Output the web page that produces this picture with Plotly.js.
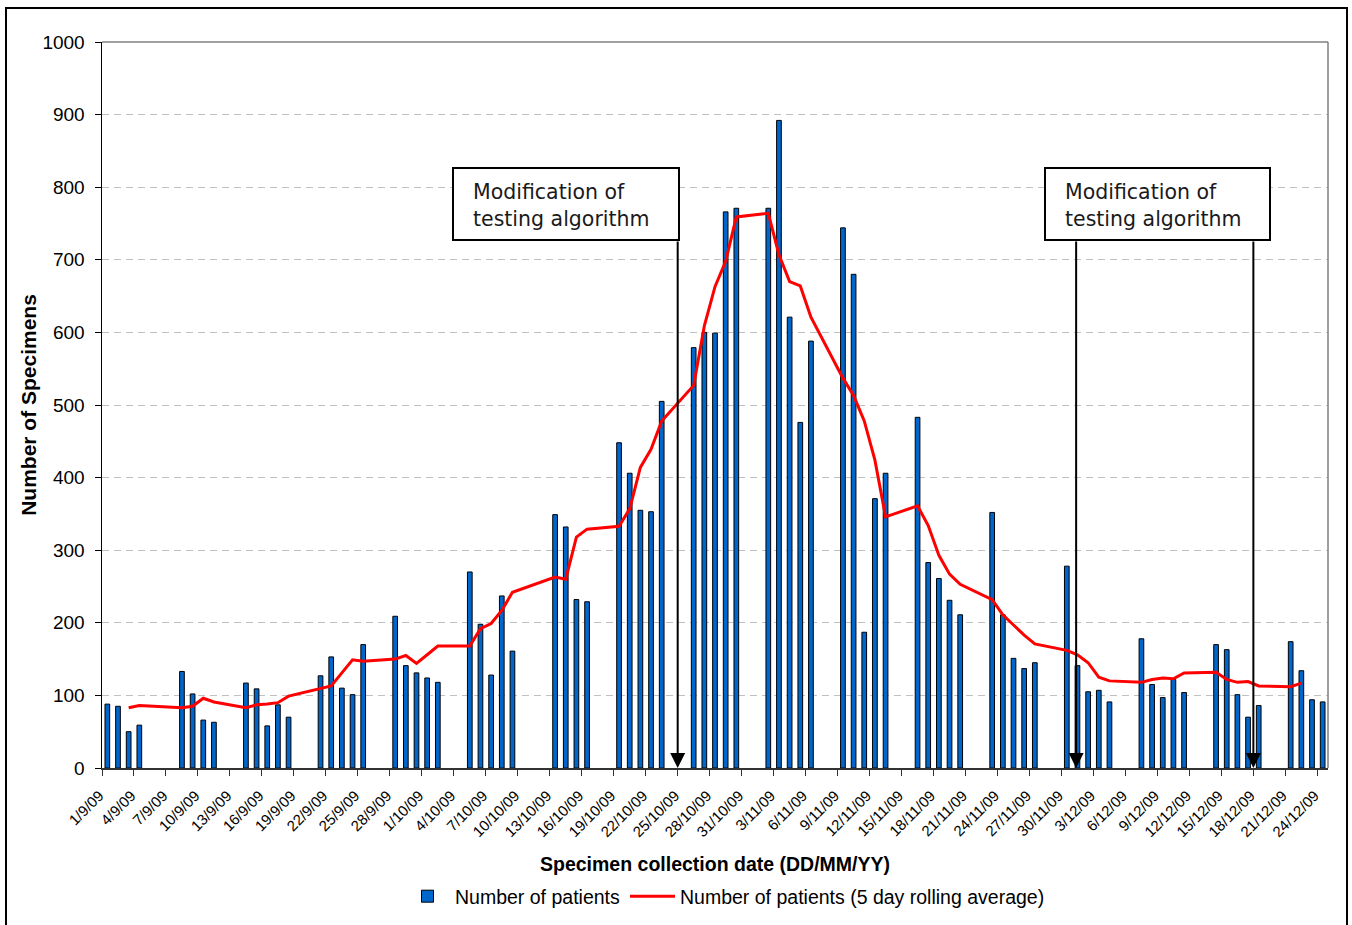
<!DOCTYPE html>
<html>
<head>
<meta charset="utf-8">
<script src="https://cdn.plot.ly/plotly-3.0.1.min.js"></script>
<style>
  html, body { margin: 0; padding: 0; background: #ffffff; }
  #chart { width: 1352px; height: 925px; }
</style>
</head>
<body>
<div id="chart"></div>
<script>
// ---- Data ----
const dates = [
  '2009-09-01','2009-09-02','2009-09-03','2009-09-04',
  '2009-09-08','2009-09-09','2009-09-10','2009-09-11',
  '2009-09-14','2009-09-15','2009-09-16','2009-09-17','2009-09-18',
  '2009-09-21','2009-09-22','2009-09-23','2009-09-24','2009-09-25',
  '2009-09-28','2009-09-29','2009-09-30','2009-10-01','2009-10-02',
  '2009-10-05','2009-10-06','2009-10-07','2009-10-08','2009-10-09',
  '2009-10-13','2009-10-14','2009-10-15','2009-10-16',
  '2009-10-19','2009-10-20','2009-10-21','2009-10-22','2009-10-23',
  '2009-10-26','2009-10-27','2009-10-28','2009-10-29','2009-10-30',
  '2009-11-02','2009-11-03','2009-11-04','2009-11-05','2009-11-06',
  '2009-11-09','2009-11-10','2009-11-11','2009-11-12','2009-11-13',
  '2009-11-16','2009-11-17','2009-11-18','2009-11-19','2009-11-20',
  '2009-11-23','2009-11-24','2009-11-25','2009-11-26','2009-11-27',
  '2009-11-30','2009-12-01','2009-12-02','2009-12-03','2009-12-04',
  '2009-12-07','2009-12-08','2009-12-09','2009-12-10','2009-12-11',
  '2009-12-14','2009-12-15','2009-12-16','2009-12-17','2009-12-18',
  '2009-12-21','2009-12-22','2009-12-23','2009-12-24'
];

const patients = [
  88, 85, 50, 59,
  133, 102, 66, 63,
  117, 109, 58, 87, 70,
  127, 153, 110, 101, 170,
  209, 141, 131, 124, 118,
  270, 198, 128, 237, 161,
  349, 332, 232, 229,
  448, 406, 355, 353, 505,
  579, 600, 599, 766, 771,
  771, 892, 621, 476, 588,
  744, 680, 187, 371, 406,
  483, 283, 261, 231, 211,
  352, 211, 151, 137, 145,
  278, 141, 105, 107, 91,
  178, 115, 97, 122, 104,
  170, 163, 101, 70, 86,
  174, 134, 94, 91
];

const rollingAvg = [
  null, null, 83, 86,
  83, 85, 96, 91,
  83, 87, 88, 90, 99,
  109, 113, 131, 149, 147,
  150, 155, 144, 156, 168,
  168, 192, 199, 217, 242,
  263, 260, 318, 329,
  333, 357, 414, 439, 478,
  527, 609, 663, 698, 759,
  764, 707, 670, 664, 621,
  537, 513, 478, 424, 346,
  361, 334, 293, 267, 253,
  232, 211, 197, 183, 171,
  162, 156, 145, 125, 120,
  118, 122, 124, 123, 131,
  132, 122, 118, 119, 113,
  112, 117, null, null
];

const seriesNames = ['Number of patients', 'Number of patients (5 day rolling average)'];
const noteText = 'Modification of<br>testing algorithm';
// dates the "modification" arrows point at
const arrowDates = ['2009-10-24 12:00', '2009-11-30 21:00', '2009-12-17 12:00'];

// ---- Layout geometry ----
const W = 1352, H = 925;
const M = { l: 102, r: 24, t: 42, b: 157, autoexpand: false };
const pw = W - M.l - M.r, ph = H - M.t - M.b;
const px = x => (x - M.l) / pw;          // pixel x -> paper
const py = y => (H - M.b - y) / ph;      // pixel y -> paper
const DAY = 86400000;
const FONT = '"Liberation Sans", Arial, sans-serif';

const traces = [
  {
    type: 'bar',
    name: seriesNames[0],
    x: dates,
    y: patients,
    width: 0.44 * DAY,
    marker: { color: '#0066CC', line: { color: '#000000', width: 1 } }
  },
  {
    type: 'scatter',
    mode: 'lines',
    name: seriesNames[1],
    x: dates,
    y: rollingAvg,
    line: { color: '#FF0000', width: 3 }
  }
];

const boxY0 = 168, boxY1 = 240;
const boxes = [[453, 679], [1045, 1270]];

const shapes = [
  // outer frame
  { type: 'rect', xref: 'paper', yref: 'paper', x0: px(6), x1: px(1347), y0: py(960), y1: py(8),
    line: { color: '#000000', width: 2 }, fillcolor: 'rgba(0,0,0,0)', layer: 'above' },
  // plot area top & right border
  { type: 'line', xref: 'paper', yref: 'paper', x0: 0, x1: 1, y0: 1, y1: 1,
    line: { color: '#808080', width: 1.5 }, layer: 'above' },
  { type: 'line', xref: 'paper', yref: 'paper', x0: 1, x1: 1, y0: 0, y1: 1,
    line: { color: '#808080', width: 1.5 }, layer: 'above' }
];
boxes.forEach(b => shapes.push({
  type: 'rect', xref: 'paper', yref: 'paper', x0: px(b[0]), x1: px(b[1]), y0: py(boxY1), y1: py(boxY0),
  line: { color: '#000000', width: 2 }, fillcolor: '#ffffff', layer: 'above'
}));

const tailValue = (H - M.b - boxY1) / ph * 1000;
const annotations = [];
arrowDates.forEach(d => annotations.push({
  x: d, y: 0, xref: 'x', yref: 'y', axref: 'x', ayref: 'y', ax: d, ay: tailValue,
  text: '', showarrow: true, arrowhead: 2, arrowsize: 1.5, arrowwidth: 2,
  arrowcolor: '#000000', standoff: 0
}));
boxes.forEach(b => annotations.push({
  xref: 'paper', yref: 'paper', x: px(b[0] + 18), y: py(206), xanchor: 'left', yanchor: 'middle',
  text: noteText, showarrow: false, align: 'left',
  font: { family: '"DejaVu Sans", sans-serif', size: 20.5, color: '#1a1a1a' }
}));

const layout = {
  width: W, height: H,
  margin: M,
  paper_bgcolor: '#ffffff', plot_bgcolor: '#ffffff',
  font: { family: FONT, color: '#000000' },
  showlegend: true,
  bargap: 0,
  legend: {
    orientation: 'h', x: px(400), xanchor: 'left', y: py(877), yanchor: 'top',
    itemwidth: 45,
    font: { family: FONT, size: 19.5, color: '#000000' },
    bgcolor: 'rgba(0,0,0,0)', tracegroupgap: 0
  },
  xaxis: {
    type: 'date',
    range: ['2009-08-31 12:00', '2009-12-24 12:00'],
    tickmode: 'linear', tick0: '2009-09-01', dtick: 3 * DAY,
    tickformat: '%-d/%-m/%y',
    tickangle: -45,
    ticks: '',
    ticklabelshift: -8,
    ticklabelstandoff: 11,
    tickfont: { family: FONT, size: 15, color: '#000000' },
    showline: true, linecolor: '#333333', linewidth: 2,
    showgrid: false, zeroline: false,
    minor: { ticks: 'outside', ticklen: 6, tickwidth: 1, tickcolor: '#333333',
             tickmode: 'linear', tick0: '2009-08-31 12:00', dtick: 3 * DAY, showgrid: false },
    title: { text: '<b>Specimen collection date (DD/MM/YY)</b>',
             font: { family: FONT, size: 19.5, color: '#000000' }, standoff: 18 },
    automargin: false
  },
  yaxis: {
    range: [0, 1000], tickmode: 'linear', tick0: 0, dtick: 100,
    ticks: 'outside', ticklen: 6, tickwidth: 1, tickcolor: '#000000',
    tickfont: { family: FONT, size: 19, color: '#000000' },
    ticklabelstandoff: 6,
    showline: true, linecolor: '#000000', linewidth: 1.5,
    showgrid: true, gridcolor: '#c0c0c0', gridwidth: 1, griddash: '7px,5px',
    zeroline: false,
    title: { text: '<b>Number of Specimens</b>',
             font: { family: FONT, size: 21, color: '#000000' }, standoff: 0 },
    automargin: false
  },
  shapes: shapes,
  annotations: annotations
};

Plotly.newPlot('chart', traces, layout, { displayModeBar: false, staticPlot: true });
</script>
</body>
</html>
